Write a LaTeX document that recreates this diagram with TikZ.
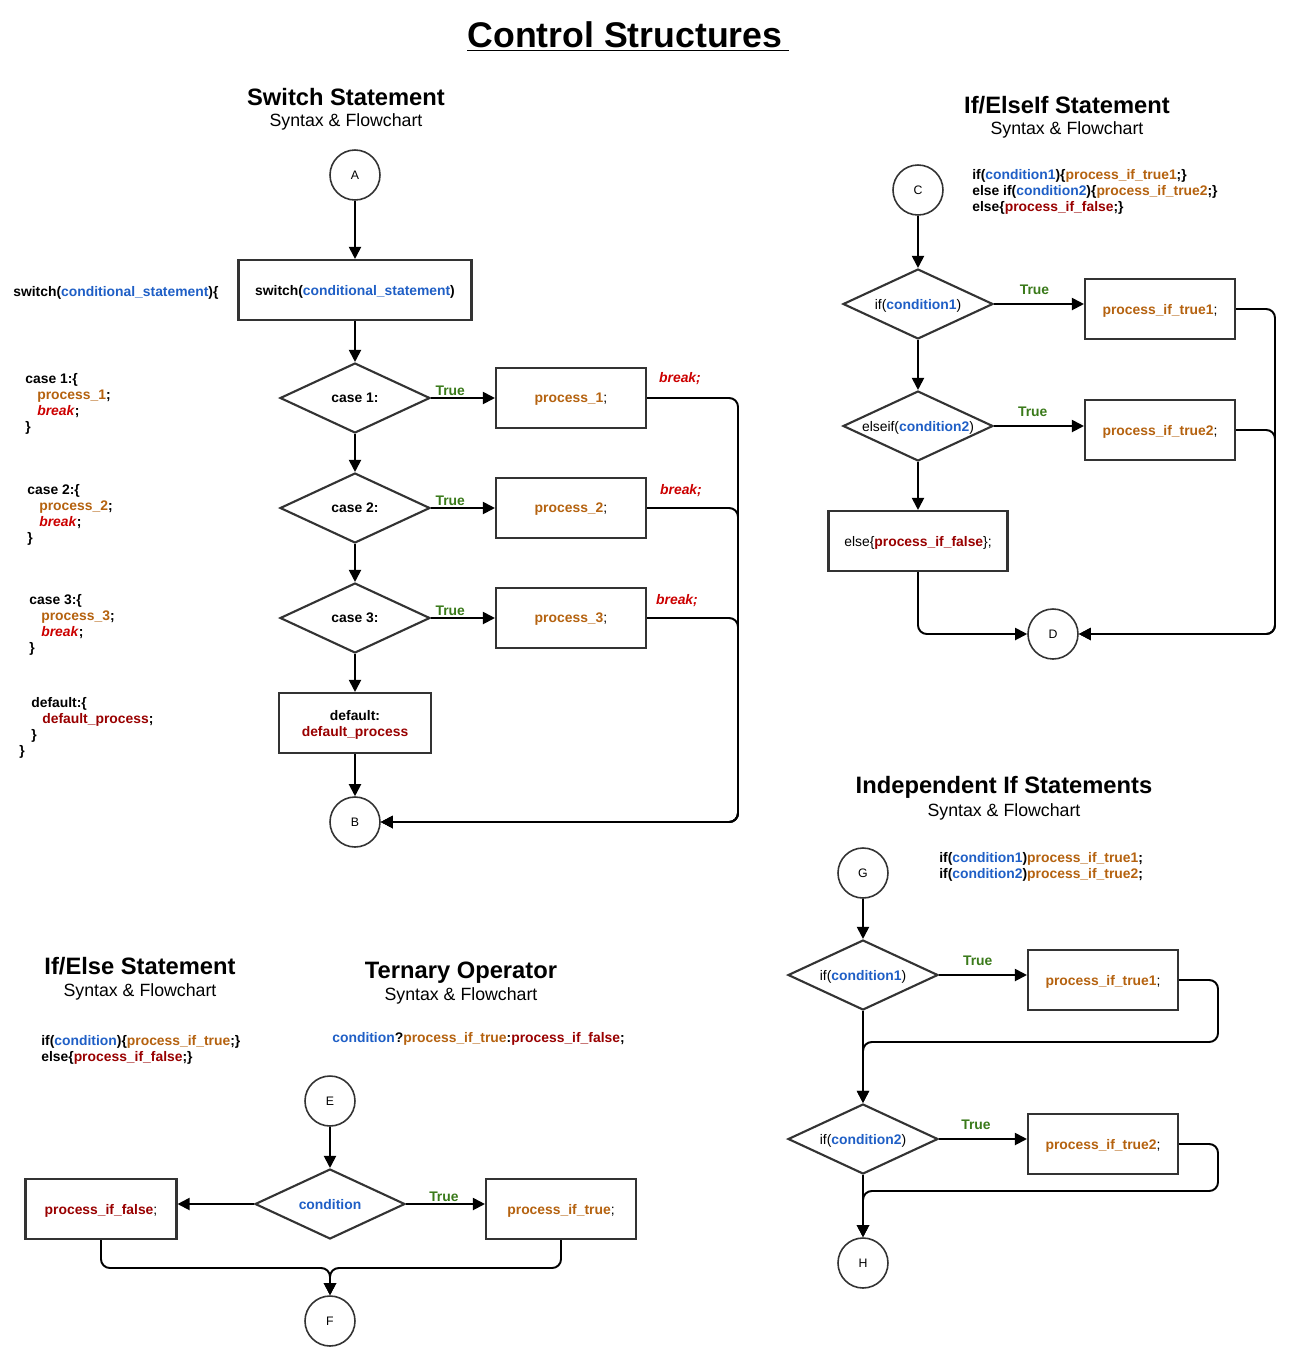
\documentclass[tikz,border=0pt]{standalone}
\usepackage{fontspec}
\setmainfont{Liberation Sans}
\usepackage{xcolor}
\usetikzlibrary{positioning,arrows.meta,shapes.geometric}

\definecolor{condblue}{HTML}{1F5FC6}
\definecolor{procorange}{HTML}{B5620F}
\definecolor{breakred}{HTML}{CC0000}
\definecolor{falsered}{HTML}{990000}
\definecolor{truegreen}{HTML}{3A7A1A}
\definecolor{linegray}{HTML}{333333}

\newcommand{\codesize}{\fontsize{7.9}{9.07}\selectfont}
\newcommand{\condtxt}[1]{\textcolor{condblue}{\textbf{#1}}}
\newcommand{\proctxt}[1]{\textcolor{procorange}{\textbf{#1}}}
\newcommand{\falsetxt}[1]{\textcolor{falsered}{\textbf{#1}}}
\newcommand{\breaktxt}[1]{\textcolor{breakred}{\textbf{\textit{#1}}}}

\begin{document}
\begin{tikzpicture}[x=0.02cm,y=-0.02cm,>={Triangle[length=2.4mm,width=2.4mm]}]
  \tikzstyle{every node}=[font=\codesize]
  \tikzstyle{every label}=[text depth=0pt]
  \tikzstyle{term}=[circle,draw=linegray,line width=0.9pt,minimum size=1cm,inner sep=0pt,font=\fontsize{7}{8}\selectfont]
  \tikzstyle{proc}=[rectangle,draw=linegray,line width=1.2pt,minimum width=3cm,minimum height=1.2cm,inner sep=0pt,text depth=0pt,font=\codesize\bfseries]
  \tikzstyle{decision}=[diamond,draw=linegray,line width=1.2pt,minimum width=3cm,minimum height=1.4cm,inner sep=0pt]
  \tikzstyle{flow}=[->,line width=1.1pt,rounded corners=5pt]
  \tikzstyle{code}=[anchor=north west,align=left,inner sep=0pt,font=\codesize\bfseries]
  \tikzstyle{oneline}=[anchor=west,inner sep=0pt,font=\codesize\bfseries]
  \tikzstyle{truelbl}=[text=truegreen,font=\codesize\bfseries,inner sep=1pt]
  \tikzstyle{heading}=[font=\fontsize{13.5}{16}\selectfont\bfseries]
  \tikzstyle{subheading}=[font=\fontsize{10.1}{12}\selectfont]

  \fill[white] (0,0) rectangle (1300,1367);
  \useasboundingbox (0,0) rectangle (1300,1367);

  \node[font=\fontsize{20.3}{24}\selectfont\bfseries] (maintitle) at (628,37) {\underline{Control Structures\,}};

  % switch statement
  \node[heading] (swhead) at (346,97) {Switch Statement};
  \node[subheading] (swsub) at (346,122) {Syntax \& Flowchart};

  \node[oneline] (swcode) at (13,293) {switch(\condtxt{conditional\_statement})\{};
  \node[code] (case1code) at (25,373) {case 1:\{\\\hspace*{0.24cm}\proctxt{process\_1};\\\hspace*{0.24cm}\breaktxt{break};\\\}};
  \node[code] (case2code) at (27,484) {case 2:\{\\\hspace*{0.24cm}\proctxt{process\_2};\\\hspace*{0.24cm}\breaktxt{break};\\\}};
  \node[code] (case3code) at (29,594) {case 3:\{\\\hspace*{0.24cm}\proctxt{process\_3};\\\hspace*{0.24cm}\breaktxt{break};\\\}};
  \node[code] (defcode) at (19,697) {\hspace*{0.24cm}default:\{\\\hspace*{0.46cm}\falsetxt{default\_process};\\\hspace*{0.24cm}\}\\\}};

  \node[term] (A) at (355,175) {A};
  \node[proc,minimum width=4.66cm] (sw) at (355,290) {switch(\condtxt{conditional\_statement})};
  \node[decision,label=center:{\textbf{case 1:}}] (case1) at (355,398) {};
  \node[decision,label=center:{\textbf{case 2:}}] (case2) at (355,508) {};
  \node[decision,label=center:{\textbf{case 3:}}] (case3) at (355,618) {};
  \node[proc,minimum width=3.04cm,align=center] (dflt) at (355,723) {default:\\\falsetxt{default\_process}};
  \node[term] (B) at (355,822) {B};

  \node[proc] (proc1) at (571,398) {\proctxt{process\_1}\textmd{;}};
  \node[proc] (proc2) at (571,508) {\proctxt{process\_2}\textmd{;}};
  \node[proc] (proc3) at (571,618) {\proctxt{process\_3}\textmd{;}};
  \node[text depth=0pt] (brk1) at (680,377) {\breaktxt{break;}};
  \node[text depth=0pt] (brk2) at (681,489) {\breaktxt{break;}};
  \node[text depth=0pt] (brk3) at (677,599) {\breaktxt{break;}};
  \coordinate (swrail) at (738,822);

  \path[flow]
    (A) edge (sw)
    (sw) edge (case1)
    (case1) edge (case2)
    (case2) edge (case3)
    (case3) edge (dflt)
    (dflt) edge (B)
    (case1) edge node[truelbl,pos=0.3,above]{True} (proc1)
    (case2) edge node[truelbl,pos=0.3,above]{True} (proc2)
    (case3) edge node[truelbl,pos=0.3,above]{True} (proc3);
  \draw[flow] (proc1.east) -| (swrail) -- (B);
  \draw[flow] (proc2.east) -| (swrail) -- (B);
  \draw[flow] (proc3.east) -| (swrail) -- (B);

  % if / elseif
  \node[heading] (iehead) at (1067,105) {If/ElseIf Statement};
  \node[subheading] (iesub) at (1067,130) {Syntax \& Flowchart};
  \node[code] (iecode) at (972,169) {if(\condtxt{condition1})\{\proctxt{process\_if\_true1};\}\\else if(\condtxt{condition2})\{\proctxt{process\_if\_true2};\}\\else\{\falsetxt{process\_if\_false};\}};

  \node[term] (C) at (918,190) {C};
  \node[decision,label=center:{if(\condtxt{condition1})}] (cond1) at (918,304) {};
  \node[decision,label=center:{elseif(\condtxt{condition2})}] (cond2) at (918,426) {};
  \node[proc,minimum width=3.58cm] (else) at (918,541) {\textmd{else\{}\falsetxt{process\_if\_false}\textmd{\};}};
  \node[proc] (true1) at (1160,309) {\proctxt{process\_if\_true1}\textmd{;}};
  \node[proc] (true2) at (1160,430) {\proctxt{process\_if\_true2}\textmd{;}};
  \node[term] (D) at (1053,634) {D};
  \coordinate (ierail) at (1275,634);

  \path[flow]
    (C) edge (cond1)
    (cond1) edge (cond2)
    (cond2) edge (else)
    (cond1.east) edge node[truelbl,pos=0.45,above=4pt]{True} (cond1.east -| true1.west)
    (cond2.east) edge node[truelbl,pos=0.43,above=4pt]{True} (cond2.east -| true2.west);
  \draw[flow] (else) |- (D);
  \draw[flow] (true1.east) -| (ierail) -- (D);
  \draw[flow] (true2.east) -| (ierail) -- (D);

  % independent ifs
  \node[heading] (indhead) at (1004,787) {Independent If Statements};
  \node[subheading] (indsub) at (1004,812) {Syntax \& Flowchart};
  \node[code] (indcode) at (939,852) {if(\condtxt{condition1})\proctxt{process\_if\_true1};\\if(\condtxt{condition2})\proctxt{process\_if\_true2};};

  \node[term] (G) at (863,873) {G};
  \node[decision,label=center:{if(\condtxt{condition1})}] (ind1) at (863,975) {};
  \node[proc] (indtrue1) at (1103,980) {\proctxt{process\_if\_true1}\textmd{;}};
  \node[decision,label=center:{if(\condtxt{condition2})}] (ind2) at (863,1139) {};
  \node[proc] (indtrue2) at (1103,1144) {\proctxt{process\_if\_true2}\textmd{;}};
  \node[term] (H) at (863,1263) {H};
  \coordinate (indrail1) at (1218,1042);
  \coordinate (indrail2) at (1218,1191);

  \path[flow]
    (G) edge (ind1)
    (ind1) edge (ind2)
    (ind2) edge (H)
    (ind1.east) edge node[truelbl,pos=0.44,above=4pt]{True} (ind1.east -| indtrue1.west)
    (ind2.east) edge node[truelbl,pos=0.42,above=4pt]{True} (ind2.east -| indtrue2.west);
  \draw[flow] (indtrue1.east) -| (indrail1) -| (ind2);
  \draw[flow] (indtrue2.east) -| (indrail2) -| (H);

  % if / else and ternary
  \node[heading] (ifhead) at (140,966) {If/Else Statement};
  \node[subheading] (ifsub) at (140,992) {Syntax \& Flowchart};
  \node[code] (ifcode) at (41,1035) {if(\condtxt{condition})\{\proctxt{process\_if\_true};\}\\else\{\falsetxt{process\_if\_false};\}};
  \node[heading] (ternhead) at (461,973) {Ternary Operator};
  \node[subheading] (ternsub) at (461,996) {Syntax \& Flowchart};
  \node[oneline] (terncode) at (332,1039) {\condtxt{condition}?\proctxt{process\_if\_true}:\falsetxt{process\_if\_false};};

  \node[term] (E) at (330,1101) {E};
  \node[decision,label=center:{\condtxt{condition}}] (cond) at (330,1204) {};
  \node[proc,minimum width=3.02cm] (pfalse) at (101,1209) {\falsetxt{process\_if\_false}\textmd{;}};
  \node[proc] (ptrue) at (561,1209) {\proctxt{process\_if\_true}\textmd{;}};
  \node[term] (F) at (330,1321) {F};
  \coordinate (ternjoin) at (330,1268);

  \path[flow]
    (E) edge (cond)
    (cond.west) edge (cond.west -| pfalse.east)
    (cond.east) edge node[truelbl,pos=0.48,above]{True} (cond.east -| ptrue.west);
  \draw[flow] (pfalse) |- (ternjoin) -- (F);
  \draw[flow] (ptrue) |- (ternjoin) -- (F);
\end{tikzpicture}
\end{document}
